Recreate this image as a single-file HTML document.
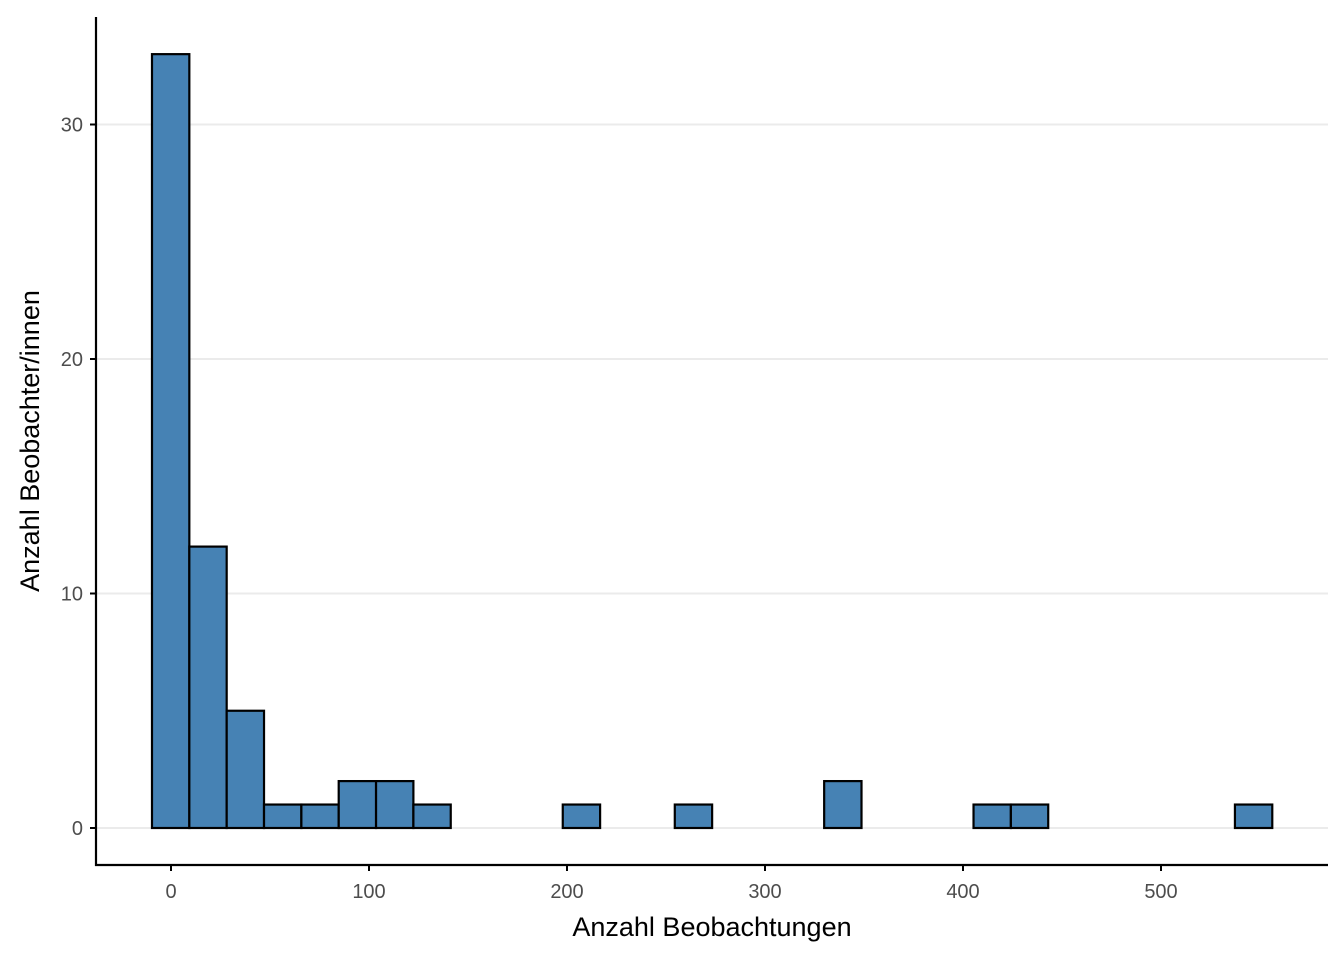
<!DOCTYPE html>
<html><head><meta charset="utf-8"><style>
html,body{margin:0;padding:0;background:#fff;}
svg{display:block;font-family:"Liberation Sans",sans-serif;}
</style></head><body>
<svg id="chart" width="1344" height="960">
<g id="grid"></g><g id="bars"></g><g id="axes"></g>
<text x="712" y="936" text-anchor="middle" font-size="27" fill="#000">Anzahl Beobachtungen</text>
<text transform="translate(39,441) rotate(-90)" text-anchor="middle" font-size="27" fill="#000">Anzahl Beobachter/innen</text>
</svg>
<script>
const binStart = -9.6;
const binWidth = 18.86;
const counts = [33,12,5,1,1,2,2,1,0,0,0,1,0,0,1,0,0,0,2,0,0,0,1,1,0,0,0,0,0,1];
const xTicks = [0,100,200,300,400,500];
const yTicks = [0,10,20,30];
const NS="http://www.w3.org/2000/svg";
function xs(v){return 171+v*1.98;}
function ys(v){return 828-v*23.45;}
function mk(tag,attrs,parent){const e=document.createElementNS(NS,tag);for(const k in attrs)e.setAttribute(k,attrs[k]);parent.appendChild(e);return e;}
const grid=document.getElementById('grid'),bars=document.getElementById('bars'),axes=document.getElementById('axes');
yTicks.forEach(t=>{
  const g=mk('line',{x1:96,x2:1328,y1:ys(t),y2:ys(t),stroke:'#ebebeb','stroke-width':2},grid);
  
  
  const tk=mk('line',{x1:90,x2:96,y1:ys(t),y2:ys(t),stroke:'#000','stroke-width':2},axes);
  
  
  const lb=mk('text',{x:83,y:ys(t)+7,'text-anchor':'end','font-size':20,fill:'#4d4d4d'},axes);
  lb.textContent=t;
  
  
});
counts.forEach((c,i)=>{
  const x0=xs(binStart+i*binWidth),x1=xs(binStart+(i+1)*binWidth);
  const r=mk('rect',{x:x0,y:ys(c),width:x1-x0,height:ys(0)-ys(c),fill:'#4682b4',stroke:'#000','stroke-width':2.2},bars);
  
  
});
xTicks.forEach(t=>{
  const tk=mk('line',{x1:xs(t),x2:xs(t),y1:865,y2:871,stroke:'#000','stroke-width':2},axes);
  
  
  const lb=mk('text',{x:xs(t),y:898,'text-anchor':'middle','font-size':20,fill:'#4d4d4d'},axes);
  lb.textContent=t;
  
  
});
const ya=mk('line',{x1:96,x2:96,y1:17,y2:866,stroke:'#000','stroke-width':2.2},axes);


const xa=mk('line',{x1:95,x2:1328,y1:865,y2:865,stroke:'#000','stroke-width':2.2},axes);


</script>
</body></html>
